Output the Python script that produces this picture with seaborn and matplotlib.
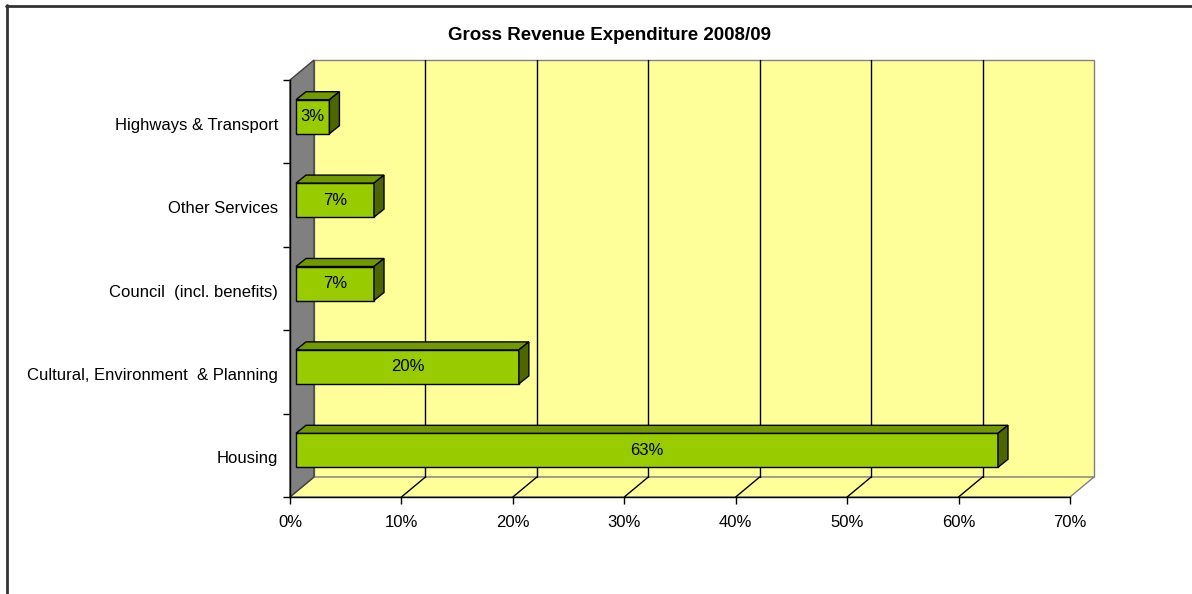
import matplotlib
matplotlib.use("Agg")
import matplotlib.pyplot as plt
import seaborn as sns
import pandas as pd
from matplotlib.patches import Polygon
from matplotlib.lines import Line2D
from matplotlib.transforms import ScaledTranslation

# --- data -------------------------------------------------------------
categories = [
    "Highways & Transport",
    "Other Services",
    "Council  (incl. benefits)",
    "Cultural, Environment  & Planning",
    "Housing",
]
shares = [3, 7, 7, 20, 63]
x_ticks = [0, 10, 20, 30, 40, 50, 60, 70]
x_tick_labels = [f"{t}%" for t in x_ticks]
title = "Gross Revenue Expenditure 2008/09"

# --- style ------------------------------------------------------------
sns.set_theme(style="white")
plt.rcParams["font.family"] = ["Liberation Sans", "DejaVu Sans"]
plt.rcParams["text.color"] = "black"
plt.rcParams["axes.labelcolor"] = "black"
plt.rcParams["xtick.color"] = "black"
plt.rcParams["ytick.color"] = "black"

FRONT = "#99CC00"
TOP = "#739900"
SIDE = "#4D6600"
WALL = "#FFFF99"
SIDE_WALL = "#808080"
EDGE_GREY = "#808080"
LABEL_SIZE = 12

W, H = 1192, 594
DPI = 100
fig = plt.figure(figsize=(W / DPI, H / DPI), dpi=DPI)
fig.patch.set_facecolor("white")

# plot area = front plane of the 3-D box
left_px, right_px, top_px, bottom_px = 290, 1070, 80, 497
ax = fig.add_axes([left_px / W, 1 - bottom_px / H,
                   (right_px - left_px) / W, (bottom_px - top_px) / H])
ax.set_facecolor("none")

xmax = x_ticks[-1]
n = len(categories)
ax.set_xlim(0, xmax)
ax.set_ylim(n - 0.5, -0.5)

ux = xmax / (right_px - left_px)      # data units per pixel (x)
uy = n / (bottom_px - top_px)         # data units per pixel (y)

# depth of the wall box and of each bar
dx, dy = 24 * ux, -20 * uy
bdx, bdy = 10 * ux, -8 * uy

y0, y1 = -0.5, n - 0.5
kw = dict(clip_on=False)
# back wall
ax.add_patch(Polygon([(dx, y1 + dy), (xmax + dx, y1 + dy), (xmax + dx, y0 + dy), (dx, y0 + dy)],
                     closed=True, facecolor=WALL, edgecolor=EDGE_GREY, lw=1, zorder=0, **kw))
# floor
ax.add_patch(Polygon([(0, y1), (xmax, y1), (xmax + dx, y1 + dy), (dx, y1 + dy)],
                     closed=True, facecolor=WALL, edgecolor=EDGE_GREY, lw=1, zorder=0.5, **kw))
# side wall
ax.add_patch(Polygon([(0, y0), (dx, y0 + dy), (dx, y1 + dy), (0, y1)],
                     closed=True, facecolor=SIDE_WALL, edgecolor="#404040", lw=1, zorder=0.6, **kw))

# gridlines on the back wall and floor
for t in x_ticks[1:-1]:
    ax.plot([t + dx, t + dx], [y1 + dy, y0 + dy], color="black", lw=1, zorder=1, **kw)
    ax.plot([t, t + dx], [y1, y1 + dy], color="black", lw=1, zorder=1, **kw)

# --- bars -------------------------------------------------------------
df = pd.DataFrame({"category": categories, "share": shares})
sns.barplot(data=df, x="share", y="category", orient="h", width=34 * uy,
            color=FRONT, saturation=1, edgecolor="black", linewidth=1, ax=ax, zorder=3)

shift = ax.transData + ScaledTranslation(6 / DPI, 5 / DPI, fig.dpi_scale_trans)
for patch, val in zip(ax.patches[-n:], shares):
    patch.set_transform(shift)
    xa = patch.get_x()
    xb = xa + patch.get_width()
    ya = patch.get_y()
    yb = ya + patch.get_height()
    top_face = Polygon([(xa, ya), (xb, ya), (xb + bdx, ya + bdy), (xa + bdx, ya + bdy)],
                       closed=True, facecolor=TOP, edgecolor="black", lw=1,
                       transform=shift, zorder=3, clip_on=False)
    side_face = Polygon([(xb, ya), (xb + bdx, ya + bdy), (xb + bdx, yb + bdy), (xb, yb)],
                        closed=True, facecolor=SIDE, edgecolor="black", lw=1,
                        transform=shift, zorder=3, clip_on=False)
    ax.add_patch(top_face)
    ax.add_patch(side_face)
    ax.text((xa + xb) / 2, (ya + yb) / 2, f"{val}%", ha="center", va="center",
            fontsize=LABEL_SIZE, color="black", transform=shift, zorder=4)

# --- axes -------------------------------------------------------------
for s in ["top", "right"]:
    ax.spines[s].set_visible(False)
for s in ["left", "bottom"]:
    ax.spines[s].set_color("black")
    ax.spines[s].set_linewidth(1)
    ax.spines[s].set_zorder(2)

ax.set_xticks(x_ticks)
ax.set_xticklabels(x_tick_labels)
ax.set_yticks(range(n))
ax.set_yticklabels(categories)
ax.set_yticks([i - 0.5 for i in range(n + 1)], minor=True)
ax.tick_params(axis="x", which="major", direction="out", length=5, width=1,
               color="black", labelcolor="black", pad=8, labelsize=LABEL_SIZE, bottom=True)
ax.tick_params(axis="y", which="major", length=0, pad=8.5, labelsize=LABEL_SIZE,
               labelcolor="black", left=True)
ax.tick_params(axis="y", which="minor", direction="out", length=5, width=1,
               color="black", left=True)
ax.set_xlabel("")
ax.set_ylabel("")
ax.grid(False)

# category labels sit slightly below the category centres
label_drop = ScaledTranslation(0, -2 / DPI, fig.dpi_scale_trans)
for lbl in ax.get_yticklabels():
    lbl.set_transform(lbl.get_transform() + label_drop)

fig.text(609 / W, 1 - 35 / H, title, ha="center", va="center",
         fontsize=13.5, fontweight="bold", color="black")

# chart-area border (left and top edges)
fig.add_artist(Line2D([6.5 / W, 6.5 / W], [0, 1 - 5 / H], color="#333333", lw=2))
fig.add_artist(Line2D([6 / W, 1], [1 - 5.5 / H, 1 - 5.5 / H], color="#333333", lw=2))

fig.savefig("out.png", dpi=DPI)
